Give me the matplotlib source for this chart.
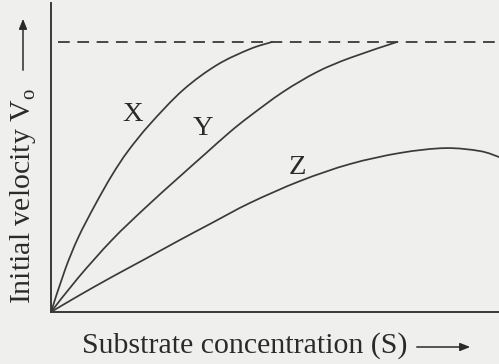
import matplotlib
matplotlib.use("Agg")
import matplotlib.pyplot as plt
from matplotlib.path import Path
from matplotlib.patches import PathPatch, FancyArrowPatch

# Read values (substrate concentration in arbitrary units, velocity relative to Vmax)
x_X = [0, 0.3125, 0.603, 0.982, 1.362, 1.719, 2.210, 2.946, 3.705, 4.442, 4.933]
v_X = [0, 0.156, 0.274, 0.396, 0.507, 0.596, 0.696, 0.822, 0.915, 0.974, 1.0]

x_Y = [0, 0.603, 1.362, 2.098, 2.835, 3.438, 3.996, 4.442, 5.179, 5.938, 6.674, 7.723]
v_Y = [0, 0.126, 0.267, 0.385, 0.496, 0.585, 0.667, 0.726, 0.815, 0.889, 0.941, 1.0]

x_Z = [0, 0.603, 1.362, 2.098, 2.835, 3.594, 4.442, 5.558, 6.674, 7.790, 8.795, 9.576, 10.0]
v_Z = [0, 0.059, 0.130, 0.196, 0.263, 0.330, 0.404, 0.485, 0.548, 0.589, 0.607, 0.596, 0.574]

vmax = 1.0
curve_labels = ["X", "Y", "Z"]

line_col = "#3a3a3a"
txt_col = "#2a2a2a"
bg = "#efefed"
serif = ["Liberation Serif", "DejaVu Serif"]
FS = 21.5

fig = plt.figure(figsize=(4.99, 3.64), dpi=100, facecolor=bg)
ax = fig.add_axes([51/499, (364-312)/364, 448/499, 309/364])
ax.set_facecolor(bg)
ax.set_xlim(0, 10)
ax.set_ylim(0, 309/270)

for s in ["top", "right"]:
    ax.spines[s].set_visible(False)
for s in ["left", "bottom"]:
    ax.spines[s].set_color(line_col)
    ax.spines[s].set_linewidth(1.4)
ax.set_xticks([])
ax.set_yticks([])

ax.plot([0.156, 10], [vmax, vmax], color=line_col, lw=1.3, dashes=(6.5, 4.2))


def smooth_path(xs, ys):
    """Catmull-Rom curve through the read points, drawn as Bezier segments."""
    pts = list(zip(xs, ys))
    verts = [pts[0]]
    codes = [Path.MOVETO]
    n = len(pts)
    for i in range(n - 1):
        p0 = pts[i - 1] if i > 0 else pts[i]
        p1 = pts[i]
        p2 = pts[i + 1]
        p3 = pts[i + 2] if i + 2 < n else pts[i + 1]
        c1 = (p1[0] + (p2[0] - p0[0]) / 6, p1[1] + (p2[1] - p0[1]) / 6)
        c2 = (p2[0] - (p3[0] - p1[0]) / 6, p2[1] - (p3[1] - p1[1]) / 6)
        verts += [c1, c2, p2]
        codes += [Path.CURVE4] * 3
    return Path(verts, codes)


for xs, vs in [(x_X, v_X), (x_Y, v_Y), (x_Z, v_Z)]:
    ax.add_patch(PathPatch(smooth_path(xs, vs), facecolor="none", edgecolor=line_col,
                           lw=1.25, capstyle="round", joinstyle="round", clip_on=False))

for lab, (px, py) in zip(curve_labels, [(1.83, 0.73), (3.39, 0.68), (5.51, 0.535)]):
    ax.text(px, py, lab, family=serif, fontsize=20.5, color=txt_col, ha="center", va="center")

fig.text(82/499, 1 - 346/364, "Substrate concentration (S)", family=serif, fontsize=FS,
         color=txt_col, ha="left", va="center")
fig.text(23/499, 1 - 196/364, r"Initial velocity V$_\mathregular{o}$", family=serif, fontsize=FS,
         color=txt_col, ha="center", va="center", rotation=90)

# arrows following the axis titles
fig.add_artist(FancyArrowPatch((414/499, 1 - 347/364), (473/499, 1 - 347/364),
               transform=fig.transFigure, arrowstyle="-|>,head_length=6,head_width=2.4",
               color=txt_col, lw=1.1, mutation_scale=1))
fig.add_artist(FancyArrowPatch((23/499, 1 - 73/364), (23/499, 1 - 16/364),
               transform=fig.transFigure, arrowstyle="-|>,head_length=6,head_width=2.4",
               color=txt_col, lw=1.1, mutation_scale=1))

fig.savefig("out.png", dpi=100, facecolor=bg)
